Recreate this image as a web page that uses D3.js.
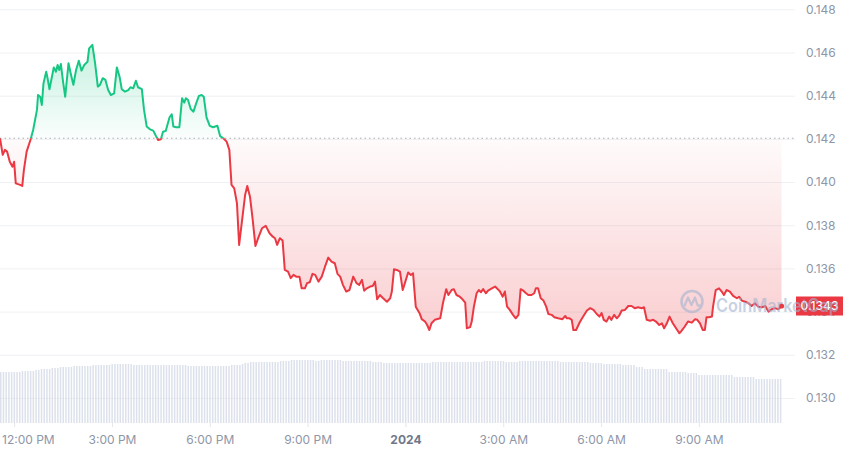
<!DOCTYPE html>
<html><head><meta charset="utf-8">
<script src="https://cdn.jsdelivr.net/npm/d3@7"></script>
<style>
html,body{margin:0;padding:0;background:#fff;}
svg{display:block;font-family:Inter,"Noto Sans",sans-serif;}
</style></head><body>
<svg id="chart" width="850" height="453"></svg>
<script>
// ---------- data ----------
const startTime = new Date(2023, 11, 31, 11, 34);   // window start
const windowMinutes = 1440;
// minutes after startTime
const minutes = [0,5,9,13,18,23,26,29,37,41,44,49,56,61,68,70,74,77,80,85,87,91,95,99,103,106,109,112,116,120,126,130,135,140,145,150,155,161,164,170,175,180,184,189,194,199,204,210,215,220,224,230,236,240,245,250,254,261,265,270,276,282,287,291,296,300,305,308,312,316,319,324,330,335,339,342,346,351,356,361,366,371,375,380,386,392,400,405,411,417,422,
426,431,436,440,447,451,455,460,465,470,475,482,489,496,502,506,510,515,520,524,530,535,540,545,551,555,561,565,570,575,580,586,592,598,604,610,616,621,626,631,637,643,650,656,661,666,670,675,681,686,690,694,699,705,712,718,721,725,730,736,
741,745,751,756,760,765,772,776,782,786,790,794,800,810,815,821,825,831,835,840,846,851,856,859,865,868,872,877,881,885,889,894,898,905,911,916,920,925,929,933,938,944,949,954,958,963,968,972,978,983,986,990,995,1000,1005,1009,1015,1020,1027,1035,1040,1043,1048,1052,1055,1060,1067,
1073,1080,1086,1092,1098,1103,1107,1111,1116,1121,1125,1130,1135,1139,1144,1150,1156,1162,1168,1174,1181,1185,1190,1196,1202,1207,1213,1218,1222,1227,1232,1238,1244,1250,1254,1260,1266,1273,1279,1283,1288,1293,1297,1300,1305,1310,1312,1317,1323,1328,1332,1337,1343,1349,1356,1360,1365,1371,1377,1383,1389,1395,1402,1408,1414,1420,1426,1432,1438];
const prices = [0.14203,0.14126,0.14149,0.14141,0.14094,0.14071,0.14094,0.13994,0.13987,0.13982,0.14056,0.14141,0.14195,0.14241,0.14334,0.14403,0.14395,0.14357,0.14457,0.14511,0.14488,0.14430,0.14481,0.14531,0.14511,0.14542,0.14519,0.14547,0.14465,0.14395,0.14550,0.14504,0.14450,0.14519,0.14562,0.14516,0.14542,0.14557,0.14619,0.14635,0.14550,0.14442,0.14450,0.14481,0.14473,0.14426,0.14403,0.14411,0.14531,0.14488,0.14430,0.14419,0.14426,0.14439,0.14434,0.14469,0.14439,0.14430,0.14334,0.14257,0.14244,0.14238,0.14213,0.14195,0.14198,0.14233,0.14237,0.14264,0.14300,0.14314,0.14257,0.14254,0.14254,0.14388,0.14368,0.14388,0.14380,0.14338,0.14326,0.14365,0.14399,0.14403,0.14395,0.14300,0.14260,0.14254,0.14261,0.14213,0.14203,0.14187,0.14149,
0.13987,0.13971,0.13902,0.13709,0.13856,0.13940,0.13982,0.13932,0.13825,0.13704,0.13740,0.13786,0.13797,0.13763,0.13747,0.13740,0.13709,0.13740,0.13729,0.13593,0.13585,0.13555,0.13570,0.13562,0.13562,0.13508,0.13508,0.13532,0.13536,0.13575,0.13570,0.13539,0.13562,0.13608,0.13650,0.13632,0.13624,0.13575,0.13562,0.13524,0.13493,0.13500,0.13562,0.13532,0.13524,0.13547,0.13497,0.13508,0.13516,0.13519,0.13539,0.13457,0.13477,0.13462,0.13446,0.13462,0.13493,0.13596,0.13593,0.13585,
0.13500,0.13532,0.13581,0.13570,0.13578,0.13423,0.13393,0.13365,0.13354,0.13338,0.13315,0.13346,0.13362,0.13369,0.13439,0.13504,0.13477,0.13500,0.13504,0.13477,0.13469,0.13457,0.13442,0.13323,0.13328,0.13354,0.13423,0.13485,0.13500,0.13490,0.13504,0.13485,0.13497,0.13508,0.13516,0.13504,0.13493,0.13469,0.13493,0.13423,0.13408,0.13385,0.13369,0.13385,0.13504,0.13497,0.13485,0.13477,0.13477,0.13485,0.13508,0.13508,0.13462,0.13451,0.13423,0.13389,0.13385,0.13374,0.13369,0.13365,0.13380,0.13369,0.13369,0.13362,0.13315,0.13315,0.13352,
0.13377,0.13405,0.13416,0.13408,0.13389,0.13377,0.13393,0.13362,0.13354,0.13377,0.13362,0.13385,0.13369,0.13380,0.13405,0.13408,0.13426,0.13426,0.13416,0.13420,0.13416,0.13420,0.13362,0.13358,0.13362,0.13354,0.13338,0.13346,0.13323,0.13346,0.13377,0.13346,0.13323,0.13300,0.13311,0.13331,0.13354,0.13349,0.13365,0.13362,0.13346,0.13315,0.13315,0.13374,0.13374,0.13377,0.13423,0.13500,0.13508,0.13493,0.13477,0.13500,0.13493,0.13473,0.13462,0.13469,0.13451,0.13446,0.13439,0.13426,0.13439,0.13423,0.13420,0.13426,0.13400,0.13411,0.13416,0.13411,0.13426];
// one volume bar every 5 minutes (relative units)
const volumeStepMinutes = 5;
const volumes = [51,51,51,51,51,51,51,51,52,52,52,52,52,53,53,54,54,54,54,55,55,55,56,56,56,56,56,57,57,
57,57,57,57,57,58,58,58,58,58,58,58,59,59,59,59,59,59,59,59,
58,58,58,58,58,58,58,58,58,58,58,58,58,58,58,58,58,58,58,58,
57,57,57,57,57,57,57,57,57,57,57,57,57,57,57,57,
58,58,58,58,59,60,60,
61,61,61,61,61,61,61,61,61,61,61,62,62,62,62,
63,63,63,63,63,63,63,63,63,62,62,63,63,63,63,63,63,63,63,
62,62,62,62,62,62,62,62,62,62,62,61,61,61,61,
60,60,60,60,60,60,60,60,60,60,60,60,60,60,60,60,60,60,
61,61,61,61,61,61,61,61,61,61,61,61,61,61,61,61,61,61,61,
62,62,62,62,62,62,62,62,61,61,61,61,61,
62,62,62,62,62,62,62,62,62,62,62,62,62,62,62,
61,61,61,61,61,61,61,61,61,61,61,
60,60,60,60,60,59,59,59,59,59,59,59,58,58,58,58,58,56,56,56,
54,54,54,54,54,54,54,54,54,51,51,51,51,51,51,51,50,50,50,50,
48,48,48,48,48,48,48,48,48,48,48,48,48,
46,46,46,46,46,46,46,46,44,44,44,44,44,44,44,44,44,44];
const openPrice = 0.14203;
const lastPriceLabel = "0.1343";
const yTicks = [0.130,0.132,0.134,0.136,0.138,0.140,0.142,0.144,0.146,0.148];
const xTickMinutes = [26,206,386,566,746,926,1106,1286];
const xTickLabels = ["12:00 PM","3:00 PM","6:00 PM","9:00 PM","2024","3:00 AM","6:00 AM","9:00 AM"];
const watermarkText = "CoinMarketCap";

// ---------- colors ----------
const UP = "#16c784", DOWN = "#ea3943";

// ---------- scales ----------
const svg = d3.select("#chart");
const tAt = m => d3.timeMinute.offset(startTime, m);
const x = d3.scaleTime().domain([startTime, tAt(windowMinutes)]).range([0, 782.6]);
const y = d3.scaleLinear().domain([0.130, 0.148]).range([398, 9.3]);
const v = d3.scaleLinear().domain([0, 100]).range([423, 323]);
const data = minutes.map((m, i) => ({t: tAt(m), p: prices[i]}));
const baseY = y(openPrice);
const gridRight = 795;

// defs
const defs = svg.append("defs");
const gUp = defs.append("linearGradient").attr("id","gUp").attr("gradientUnits","userSpaceOnUse")
  .attr("x1",0).attr("x2",0).attr("y1",y(0.1465)).attr("y2",baseY);
gUp.append("stop").attr("offset",0).attr("stop-color",UP).attr("stop-opacity",0.26);
gUp.append("stop").attr("offset",1).attr("stop-color",UP).attr("stop-opacity",0.02);
const gDn = defs.append("linearGradient").attr("id","gDn").attr("gradientUnits","userSpaceOnUse")
  .attr("x1",0).attr("x2",0).attr("y1",baseY).attr("y2",y(0.1330));
gDn.append("stop").attr("offset",0).attr("stop-color",DOWN).attr("stop-opacity",0.02);
gDn.append("stop").attr("offset",1).attr("stop-color",DOWN).attr("stop-opacity",0.25);
defs.append("clipPath").attr("id","clipUp").append("rect").attr("x",-5).attr("y",0).attr("width",900).attr("height",baseY);
defs.append("clipPath").attr("id","clipDn").append("rect").attr("x",-5).attr("y",baseY).attr("width",900).attr("height",453-baseY);

// gridlines
svg.append("g").attr("class","grid")
  .call(d3.axisLeft(y).tickValues(yTicks).tickSize(-gridRight).tickFormat(""))
  .call(g => g.select(".domain").remove())
  .call(g => g.selectAll("line").attr("stroke","#eff1f4").attr("stroke-width",1));

// volume bars
svg.append("g").selectAll("rect").data(volumes).join("rect")
  .attr("x", (d,i) => x(tAt(i*volumeStepMinutes)))
  .attr("width", 1.5)
  .attr("y", d => v(d))
  .attr("height", d => v(0) - v(d))
  .attr("fill", "#d3d9e6").attr("fill-opacity", 0.8);

// areas
const area = d3.area().x(d => x(d.t)).y0(baseY).y1(d => y(d.p));
svg.append("path").datum(data).attr("d", area).attr("fill","url(#gUp)").attr("clip-path","url(#clipUp)");
svg.append("path").datum(data).attr("d", area).attr("fill","url(#gDn)").attr("clip-path","url(#clipDn)");

// baseline
svg.append("line").attr("x1",0).attr("x2",gridRight).attr("y1",baseY).attr("y2",baseY)
  .attr("stroke","#a6acb8").attr("stroke-width",1).attr("stroke-dasharray","1.5,3");

// lines
const line = d3.line().x(d => x(d.t)).y(d => y(d.p));
svg.append("path").datum(data).attr("d", line).attr("fill","none").attr("stroke",UP)
  .attr("stroke-width",2).attr("stroke-linejoin","round").attr("clip-path","url(#clipUp)");
svg.append("path").datum(data).attr("d", line).attr("fill","none").attr("stroke",DOWN)
  .attr("stroke-width",2).attr("stroke-linejoin","round").attr("clip-path","url(#clipDn)");
const last = data[data.length-1];
svg.append("circle").attr("cx",x(last.t)).attr("cy",y(last.p)).attr("r",2.6).attr("fill",DOWN);

// y axis labels
svg.append("g").attr("transform","translate(806,0)")
  .call(d3.axisRight(y).tickValues(yTicks).tickSize(0).tickPadding(0).tickFormat(d3.format(".3f")))
  .call(g => g.select(".domain").remove())
  .call(g => g.selectAll("text").attr("fill","#8e96a8").attr("font-size",12).attr("font-family","Inter,sans-serif"));

// x axis
const xAxisG = svg.append("g").attr("transform","translate(0,423)")
  .call(d3.axisBottom(x).tickValues(xTickMinutes.map(tAt)).tickSize(4).tickPadding(8)
    .tickFormat((d,i) => xTickLabels[i]))
  .call(g => g.select(".domain").remove())
  .call(g => g.selectAll("line").attr("stroke","#e3e6ec"))
  .call(g => g.selectAll("text").attr("fill","#8e96a8").attr("font-size",12).attr("font-family","Inter,sans-serif"));
xAxisG.selectAll("text").filter((d,i) => xTickLabels[i] === "2024")
  .attr("font-weight",700).attr("fill","#6f788b");
xAxisG.selectAll(".tick").filter((d,i) => i === 0).select("text")
  .attr("text-anchor","start").attr("x", d => 1.5 - x(d));

// last price label
const ly = y(last.p);
svg.append("rect").attr("x",796).attr("y",ly-9.5).attr("width",47).attr("height",19).attr("fill",DOWN);
svg.append("text").attr("x",819.5).attr("y",ly).attr("dy","0.35em").attr("text-anchor","middle")
  .attr("fill","#fff").attr("font-size",12).attr("font-weight",500).text(lastPriceLabel);

// watermark
const wm = svg.append("g").attr("opacity",0.6);
wm.append("circle").attr("cx",692).attr("cy",301.5).attr("r",10.5).attr("fill","none")
  .attr("stroke","#a3b4d0").attr("stroke-width",2.6);
wm.append("path").attr("d","M684.5,306 L688,297.5 L691.5,305 L695,297.5 L697.5,305 Q699,307 700.5,304.5")
  .attr("fill","none").attr("stroke","#a3b4d0").attr("stroke-width",2.2).attr("stroke-linejoin","round");
wm.append("text").attr("x",716).attr("y",312).attr("font-size",18).attr("font-weight",600)
  .attr("textLength",123).attr("lengthAdjust","spacingAndGlyphs")
  .attr("fill","#a3b4d0").text(watermarkText);
</script>
</body></html>
